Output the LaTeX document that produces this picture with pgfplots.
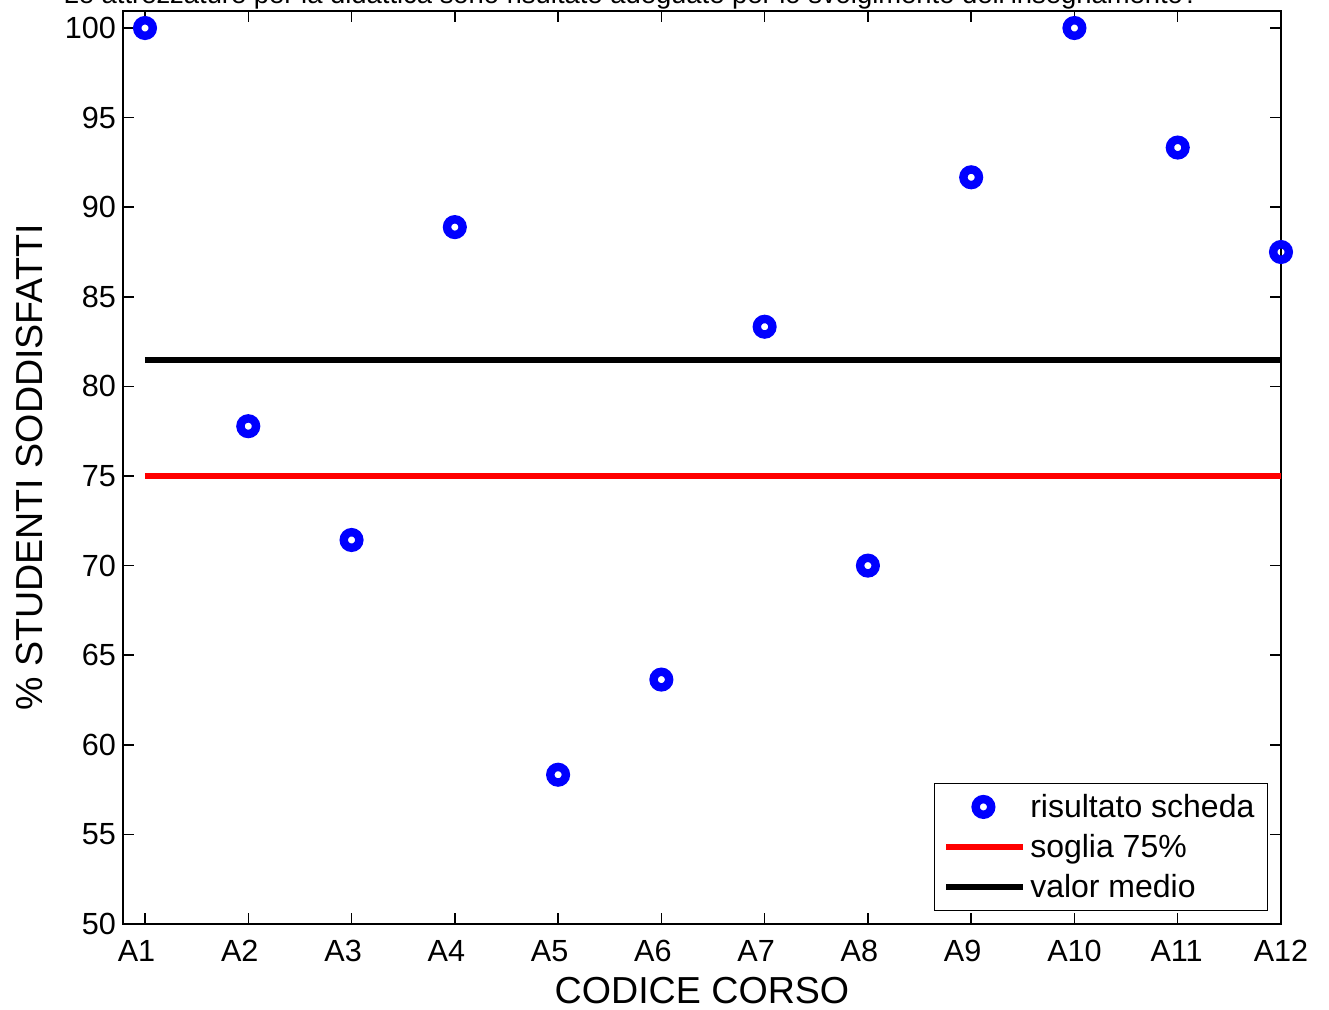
\documentclass[border=0pt]{standalone}
\usepackage{pgfplots}
\pgfplotsset{compat=1.18}
\usepackage{fontspec}
\setmainfont{Liberation Sans}
\definecolor{mblue}{RGB}{0,0,255}
\definecolor{mred}{RGB}{255,0,0}
\pgfplotsset{
  markleg/.style={legend image code/.code={\draw[##1] plot coordinates {(0.65cm,0cm)};}},
  lineleg/.style={legend image code/.code={\draw[##1] (0cm,0cm) -- (1.35cm,0cm);}},
}
\begin{document}
\begin{tikzpicture}
\begin{axis}[
  scale only axis,
  width=579pt, height=456.5pt,
  xmin=0.787, xmax=12,
  ymin=50, ymax=100.95,
  xtick={1,...,12},
  xticklabels={A1,A2,A3,A4,A5,A6,A7,A8,A9,A10,A11,A12},
  ytick={50,55,...,100},
  tick align=inside,
  major tick length=5.5pt,
  axis line style={line width=0.75pt},
  every tick/.style={line width=0.75pt, black},
  /pgf/number format/assume math mode=true,
  ticklabel style={font=\fontsize{15.3}{18}\selectfont},
  xticklabel style={text width=27.2pt, align=left, yshift=-4.5pt},
  xlabel={CODICE CORSO},
  ylabel={\% STUDENTI SODDISFATTI},
  label style={font=\fontsize{18.8}{22}\selectfont},
  xlabel style={yshift=-1pt},
  ylabel style={yshift=4pt},
  legend style={at={(1,0)}, anchor=south east, xshift=-6.5pt, yshift=6.5pt,
    font=\fontsize{16}{19}\selectfont, draw=black, line width=0.6pt,
    cells={anchor=west}, row sep=3pt, inner xsep=4.5pt, inner ysep=3pt},
  clip=false,
]
\addplot[only marks, mark=o, mark size=3.9pt, mark options={line width=4.2pt, draw=mblue}, color=mblue, markleg]
  coordinates {(1,100) (2,77.78) (3,71.43) (4,88.89) (5,58.33) (6,63.64) (7,83.33) (8,70) (9,91.67) (10,100) (11,93.33) (12,87.5)};
\addlegendentry{risultato scheda}
\addplot[mred, line width=3pt, lineleg] coordinates {(1,75) (12,75)};
\addlegendentry{soglia 75\%}
\addplot[black, line width=3pt, lineleg] coordinates {(1,81.5) (12,81.5)};
\addlegendentry{valor medio}
\end{axis}
\node[anchor=base, font=\fontsize{13.7}{16}\selectfont, inner sep=0pt] at ([xshift=254pt, yshift=460pt]current axis.south west) {Le attrezzature per la didattica sono risultate adeguate per lo svolgimento dell'insegnamento?};
\pgfresetboundingbox
\useasboundingbox ([xshift=-61.5pt, yshift=-42.5pt]current axis.south west) rectangle ([xshift=603pt, yshift=462pt]current axis.south west);
\end{tikzpicture}
\end{document}
